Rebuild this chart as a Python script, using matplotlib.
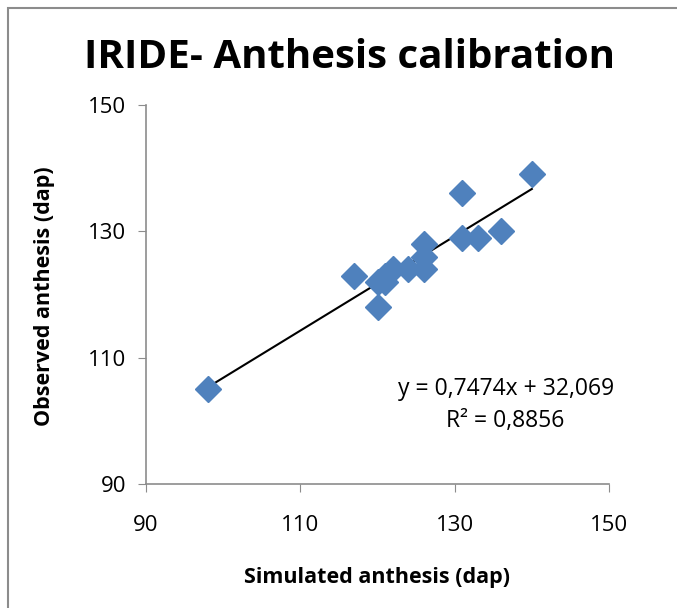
import matplotlib.pyplot as plt
from matplotlib.patches import Rectangle

# simulated vs observed anthesis (days after planting)
simulated = [98, 117, 120, 120, 121, 121, 122, 124, 126, 126, 126, 131, 131, 133, 136, 140]
observed = [105, 123, 118, 122, 122, 123, 124, 124, 128, 126, 124, 136, 129, 129, 130, 139]

slope = 0.7474
intercept = 32.069
r2 = 0.8856

ticks = [90, 110, 130, 150]

plt.rcParams['font.family'] = ['Open Sans', 'DejaVu Sans']

fig = plt.figure(figsize=(6.77, 6.08), dpi=100)
W, H = 677, 608
ax = fig.add_axes([146 / W, 1 - 484 / H, (609 - 146) / W, (484 - 105) / H])

# chart border (cropped on right and bottom)
fig.patches.append(Rectangle((8 / W, -0.1), 1.2, 1 - 8 / H + 0.1,
                             transform=fig.transFigure, fill=False,
                             edgecolor='#8c8c8c', linewidth=1.5))

ax.plot(simulated, observed, linestyle='none', marker='D', markersize=13,
        color='#4F81BD', markeredgecolor='#4F81BD', zorder=3)

xs = [min(simulated), max(simulated)]
ax.plot(xs, [slope * x + intercept for x in xs], color='black', linewidth=1.5, zorder=2)

ax.set_xlim(90, 150)
ax.set_ylim(90, 150)
ax.set_xticks(ticks)
ax.set_yticks(ticks)
ax.tick_params(direction='out', length=6, color='#8c8c8c', labelsize=16)
ax.tick_params(axis='x', pad=16)
ax.tick_params(axis='y', pad=8)
for s in ['top', 'right']:
    ax.spines[s].set_visible(False)
for s in ['left', 'bottom']:
    ax.spines[s].set_color('#8c8c8c')
    ax.spines[s].set_linewidth(1.2)

eq = 'y = ' + f'{slope:.4f}'.replace('.', ',') + 'x + ' + f'{intercept:.3f}'.replace('.', ',')
r2_txt = 'R² = ' + f'{r2:.4f}'.replace('.', ',')
fig.text(506 / W, 1 - 389 / H, eq, ha='center', va='center', fontsize=16.5)
fig.text(505 / W, 1 - 421 / H, r2_txt, ha='center', va='center', fontsize=16.5)

fig.text(350 / W, 1 - 58 / H, 'IRIDE- Anthesis calibration', ha='center', va='center',
         fontsize=29, fontweight='bold')
fig.text(377 / W, 1 - 578 / H, 'Simulated anthesis (dap)', ha='center', va='center',
         fontsize=15.5, fontweight='bold')
fig.text(45 / W, 1 - 296 / H, 'Observed anthesis (dap)', ha='center', va='center',
         fontsize=15.5, fontweight='bold', rotation=90)

fig.savefig('out.png', dpi=100)
